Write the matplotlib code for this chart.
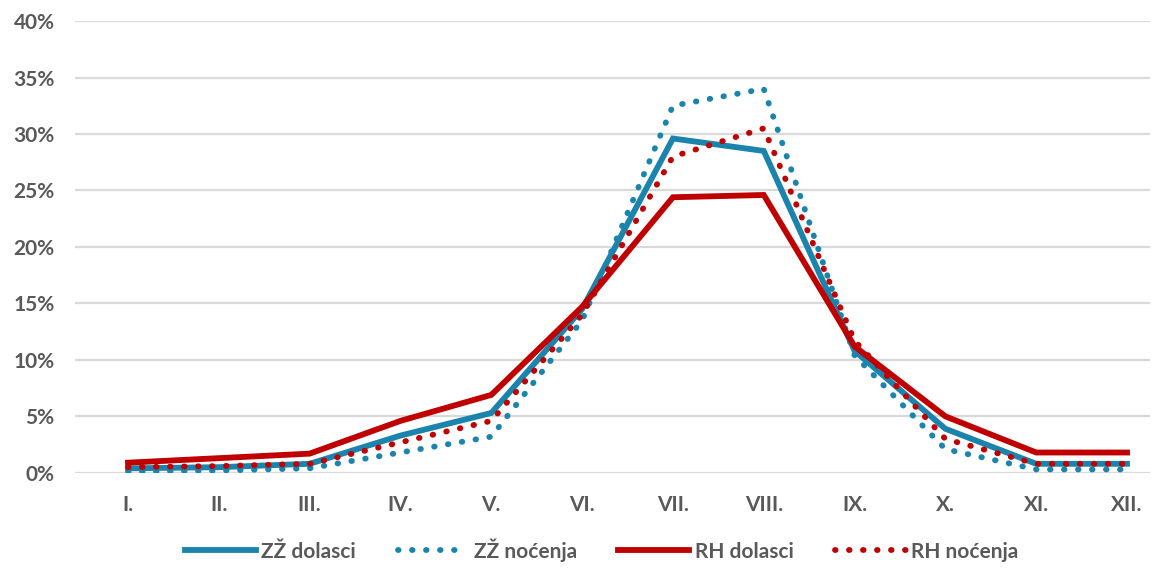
import numpy as np
import matplotlib.pyplot as plt
from matplotlib.ticker import FuncFormatter

# mjeseci
months = ["I.", "II.", "III.", "IV.", "V.", "VI.", "VII.", "VIII.", "IX.", "X.", "XI.", "XII."]

# udjeli po mjesecima (%)
zz_dolasci = [0.4, 0.5, 0.8, 3.3, 5.3, 14.5, 29.6, 28.5, 10.8, 3.9, 0.8, 0.8]
zz_nocenja = [0.1, 0.2, 0.4, 1.8, 3.2, 13.5, 32.5, 34.0, 10.4, 2.1, 0.3, 0.3]
rh_dolasci = [0.9, 1.3, 1.7, 4.6, 6.9, 14.7, 24.4, 24.6, 11.2, 5.0, 1.8, 1.8]
rh_nocenja = [0.5, 0.6, 0.8, 2.7, 4.6, 14.0, 28.0, 30.5, 11.7, 3.0, 0.8, 0.8]

blue = "#1b84ad"
red = "#c00000"
grey = "#595959"

plt.rcParams['font.family'] = ['Lato', 'DejaVu Sans']

fig = plt.figure(figsize=(11.59, 5.69), dpi=100)
ax = fig.add_axes([0.065, 0.169, 0.927, 0.794])

x = np.arange(len(months))
dots = (0, (0.1, 2.3))
ax.plot(x, zz_dolasci, color=blue, lw=4.2, solid_joinstyle='miter', label="ZŽ dolasci", zorder=3)
ax.plot(x, zz_nocenja, color=blue, lw=4.2, linestyle=dots, dash_capstyle='round', label="ZŽ noćenja", zorder=3)
ax.plot(x, rh_dolasci, color=red, lw=4.2, solid_joinstyle='miter', label="RH dolasci", zorder=3)
ax.plot(x, rh_nocenja, color=red, lw=4.2, linestyle=dots, dash_capstyle='round', label="RH noćenja", zorder=3)

ax.set_xlim(-0.58, 11.25)
ax.set_ylim(0, 40)
ax.set_yticks(np.arange(0, 41, 5))
ax.yaxis.set_major_formatter(FuncFormatter(lambda v, p: f"{v:.0f}%"))
ax.set_xticks(x)
ax.set_xticklabels(months)

ax.grid(axis='y', color='#d9d9d9', lw=1.6)
ax.set_axisbelow(True)
for s in ax.spines.values():
    s.set_visible(False)
ax.tick_params(length=0, labelsize=15, labelcolor=grey)
ax.tick_params(axis='y', pad=15)
ax.tick_params(axis='x', pad=16)
for lab in ax.get_xticklabels() + ax.get_yticklabels():
    lab.set_fontweight('bold')

leg = ax.legend(loc='upper center', bbox_to_anchor=(0.49, -0.112), ncol=4, frameon=False,
                fontsize=15, handlelength=3.4, handletextpad=0.25, columnspacing=2.0,
                borderpad=0.2)
for t in leg.get_texts():
    t.set_color(grey)
    t.set_fontweight('bold')

fig.savefig("out.png", dpi=100)
